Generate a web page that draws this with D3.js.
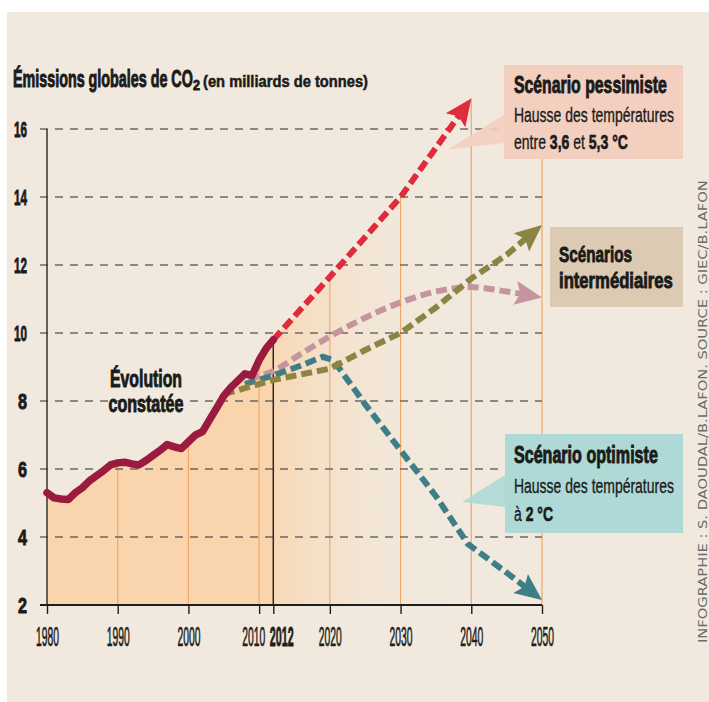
<!DOCTYPE html>
<html>
<head>
<meta charset="utf-8">
<script src="https://cdn.jsdelivr.net/npm/d3@7"></script>
<style>
  html, body { margin: 0; background: #fff; }
  svg { display: block; }
</style>
</head>
<body>
<svg id="chart" width="709" height="702"></svg>
<script>
// observed emissions (Gt)
const histYears = [1980,1981,1982,1983,1984,1985,1986,1987,1988,1989,1990,1991,1992,1993,1994,1995,1996,
  1997,1998,1999,2000,2001,2002,2003,2004,2005,2006,2007,2008,2009,2010,2011,2012];
const histValues = [5.3,5.15,5.12,5.1,5.3,5.45,5.65,5.8,5.95,6.12,6.18,6.2,6.15,6.12,6.25,6.4,6.55,
  6.72,6.65,6.6,6.8,7.0,7.1,7.45,7.8,8.15,8.4,8.6,8.8,8.75,9.2,9.55,9.8];

// scenarios
const pessYears = [2012, 2020, 2030, 2040];
const pessValues = [9.8, 11.65, 14.0, 16.9];
const pinkYears = [2008.5, 2012, 2016, 2020, 2025, 2030, 2035, 2040, 2045, 2050];
const pinkValues = [8.65, 8.88, 9.4, 9.9, 10.45, 10.9, 11.22, 11.35, 11.22, 11.05];
const oliveYears = [2005, 2012, 2020, 2025, 2030, 2035, 2040, 2045, 2050];
const oliveValues = [8.2, 8.62, 8.95, 9.5, 10.0, 10.75, 11.6, 12.3, 13.18];
const optYears = [2008, 2012, 2016, 2019, 2020.5, 2025, 2030, 2035, 2039.5, 2045, 2050];
const optValues = [8.5, 8.75, 9.05, 9.3, 9.2, 7.9, 6.55, 5.2, 3.8, 2.95, 2.15];

const yTicks = [2, 4, 6, 8, 10, 12, 14, 16];
const xTicks = [1980, 1990, 2000, 2010, 2012, 2020, 2030, 2040, 2050];

const FONT = "'Liberation Sans', Arial, sans-serif";
const BG = "#f1e9dd";
const INK = "#1b1b1b";

const svg = d3.select("#chart");
const x = d3.scaleLinear().domain([1980, 2050]).range([47, 542]);
const y = d3.scaleLinear().domain([2, 16]).range([605, 129]);

const zip = (xs, vs) => xs.map((d, i) => ({year: d, value: vs[i]}));
const hist = zip(histYears, histValues);
const pess = zip(pessYears, pessValues);

// text helper: squeezes the text horizontally to a target width
function put(parent, px, py, parts, o = {}) {
  const g = parent.append("g");
  const color = o.color || INK;
  const t = g.append("text")
    .attr("text-anchor", o.anchor || "start")
    .attr("fill", color)
    .style("font-family", o.family || FONT)
    .style("font-size", (o.size || 20) + "px");
  parts.forEach(p => {
    const [s, b] = Array.isArray(p) ? p : [p, o.bold];
    const ts = t.append("tspan").attr("font-weight", b ? "bold" : "normal").text(s);
    const sw = b ? (o.heavy || 0.7) : (o.light || 0);
    if (sw) ts.attr("stroke", color).attr("stroke-width", sw);
  });
  const w = t.node().getComputedTextLength();
  const sx = o.width ? o.width / w : 1;
  g.attr("transform", `translate(${px},${py})${o.rotate ? ` rotate(${o.rotate})` : ""} scale(${sx},1)`);
  return t;
}

svg.append("rect").attr("x", 7).attr("y", 12).attr("width", 702).attr("height", 690).attr("fill", BG);

const defs = svg.append("defs");
const grad = defs.append("linearGradient").attr("id", "fade")
  .attr("gradientUnits", "userSpaceOnUse")
  .attr("x1", x(2012)).attr("x2", x(2037)).attr("y1", 0).attr("y2", 0);
grad.append("stop").attr("offset", 0).attr("stop-color", "#f8d8b6").attr("stop-opacity", 1);
grad.append("stop").attr("offset", 1).attr("stop-color", BG).attr("stop-opacity", 0);

// areas
const area = d3.area().x(d => x(d.year)).y0(y(2)).y1(d => y(d.value));
svg.append("path").datum(hist).attr("d", area).attr("fill", "#fad4ad");
svg.append("path").datum(pess).attr("d", area).attr("fill", "url(#fade)");

// orange verticals up to the upper envelope
const envelope = hist.concat(pess.slice(1));
const bis = d3.bisector(d => d.year).left;
function topAt(yr) {
  const i = bis(envelope, yr);
  if (i <= 0) return envelope[0].value;
  if (i >= envelope.length) return envelope[envelope.length - 1].value;
  const a = envelope[i - 1], b = envelope[i];
  return a.value + (b.value - a.value) * (yr - a.year) / (b.year - a.year);
}
svg.append("g").selectAll("line")
  .data(xTicks.filter(d => d !== 1980 && d !== 2012))
  .join("line")
  .attr("x1", d => x(d)).attr("x2", d => x(d))
  .attr("y1", y(2)).attr("y2", d => y(topAt(d)))
  .attr("stroke", "#f2a866").attr("stroke-width", 1.2);

// dashed horizontal grid
svg.append("g").selectAll("line")
  .data(yTicks)
  .join("line")
  .attr("x1", 40).attr("x2", x(2050))
  .attr("y1", d => y(d)).attr("y2", d => y(d))
  .attr("stroke", "#6d6864").attr("stroke-width", 1.5)
  .attr("stroke-dasharray", "8,7");

// y axis line
svg.append("line").attr("x1", x(1980)).attr("x2", x(1980))
  .attr("y1", y(16)).attr("y2", y(2)).attr("stroke", "#333").attr("stroke-width", 1.5);
// 2012 marker
svg.append("line").attr("x1", x(2012)).attr("x2", x(2012))
  .attr("y1", y(2)).attr("y2", y(topAt(2012))).attr("stroke", "#2a2a2a").attr("stroke-width", 1.5);

// scenario lines with arrow heads
const ARROW = 19;
function marker(id, color) {
  defs.append("marker").attr("id", id)
    .attr("markerUnits", "userSpaceOnUse")
    .attr("viewBox", "-25 -25 50 50")
    .attr("markerWidth", 50).attr("markerHeight", 50)
    .attr("refX", 0).attr("refY", 0)
    .attr("orient", "auto")
    .append("path").attr("d", "M-8,-12L19,0L-8,12L-3,0Z").attr("fill", color);
}
function scenario(xs, vs, color, id, curve) {
  const pts = xs.map((d, i) => [x(d), y(vs[i])]);
  const n = pts.length;
  const [ax, ay] = pts[n - 2], [bx, by] = pts[n - 1];
  const len = Math.hypot(bx - ax, by - ay);
  pts[n - 1] = [bx - (bx - ax) / len * ARROW, by - (by - ay) / len * ARROW];
  marker(id, color);
  svg.append("path").datum(pts)
    .attr("d", d3.line().curve(curve || d3.curveMonotoneX))
    .attr("fill", "none").attr("stroke", color).attr("stroke-width", 6)
    .attr("stroke-dasharray", "11,5")
    .attr("marker-end", `url(#${id})`);
}
scenario(pinkYears, pinkValues, "#c4959f", "a-pink");
scenario(optYears, optValues, "#3e7e87", "a-teal", d3.curveLinear);
scenario(oliveYears, oliveValues, "#8c8442", "a-olive", d3.curveLinear);
scenario(pessYears, pessValues, "#df2b3b", "a-red", d3.curveLinear);

// observed line
svg.append("path").datum(hist)
  .attr("d", d3.line().x(d => x(d.year)).y(d => y(d.value)))
  .attr("fill", "none").attr("stroke", "#9b1a40").attr("stroke-width", 7.5)
  .attr("stroke-linejoin", "round").attr("stroke-linecap", "round");

// x axis
const labelShift = new Map([[2010, -6], [2012, 8]]);
const gx = svg.append("g").attr("transform", `translate(0,${y(2)})`)
  .style("color", "#1e1e1e")
  .call(d3.axisBottom(x).tickValues(xTicks).tickSize(9).tickSizeOuter(0).tickFormat(d3.format("d")));
gx.select(".domain").attr("stroke-width", 2.2).attr("d", `M40,0H${x(2050)}`);
gx.selectAll(".tick line").attr("stroke-width", 1.4);
gx.selectAll(".tick text").each(function(d) {
  const t = d3.select(this)
    .attr("y", 41).attr("dy", null)
    .style("font-family", FONT).style("font-size", "27px")
    .attr("font-weight", d === 2012 ? "bold" : "normal")
    .attr("stroke", "#1e1e1e").attr("stroke-width", d === 2012 ? 0.8 : 0.7)
    .attr("fill", "#1e1e1e");
  const sx = (d === 2012 ? 24 : 23) / this.getComputedTextLength();
  t.attr("transform", `scale(${sx},1)`).attr("x", (labelShift.get(d) || 0) / sx);
});

// y labels
yTicks.forEach(v => put(svg, 27, y(v) + 8, [String(v)],
  {anchor: "end", bold: true, size: 22, width: v >= 10 ? 13 : 9, heavy: 0.9}));

// title
put(svg, 13, 87, ["Émissions globales de CO"], {bold: true, size: 24, width: 180, heavy: 1});
put(svg, 193, 90, ["2"], {bold: true, size: 14, width: 7, heavy: 0.8});
put(svg, 203, 87, ["(en milliards de tonnes)"], {bold: true, size: 16, width: 165, heavy: 0.5});

put(svg, 146, 387, ["Évolution"], {anchor: "middle", bold: true, size: 23, width: 72, heavy: 0.9});
put(svg, 146, 412, ["constatée"], {anchor: "middle", bold: true, size: 23, width: 75, heavy: 0.9});

// annotation boxes
function callout(bx, by, bw, bh, fill, tip, edge) {
  const g = svg.append("g");
  if (tip) {
    g.append("path")
      .attr("d", `M${bx},${edge[0]}L${x(tip[0])},${y(tip[1])}L${bx},${edge[1]}Z`)
      .attr("fill", fill).attr("opacity", 0.9);
  }
  g.append("rect").attr("x", bx).attr("y", by).attr("width", bw).attr("height", bh).attr("fill", fill);
}
callout(504, 65, 179, 94, "#f3cfc0", [2036.7, 15.4], [115, 143]);
callout(550, 227, 133, 80, "#dccab2");
callout(505, 434, 178, 99, "#aed9d6", [2038.7, 5.03], [475, 507]);

put(svg, 514, 93, ["Scénario pessimiste"], {bold: true, size: 23, width: 153, heavy: 0.9});
put(svg, 514, 122, ["Hausse des températures"], {size: 21, width: 160, light: 0.35});
put(svg, 514, 149, ["entre ", ["3,6", true], " et ", ["5,3 °C", true]], {size: 21, width: 114, light: 0.35});

put(svg, 559, 262, ["Scénarios"], {bold: true, size: 22, width: 73, heavy: 0.9});
put(svg, 559, 288, ["intermédiaires"], {bold: true, size: 22, width: 114, heavy: 0.9});

put(svg, 514, 463, ["Scénario optimiste"], {bold: true, size: 23, width: 144, heavy: 0.9});
put(svg, 514, 493, ["Hausse des températures"], {size: 21, width: 160, light: 0.35});
put(svg, 514, 521, ["à ", ["2 °C", true]], {size: 21, width: 39, light: 0.35});

// credit
put(svg, 707, 643, ["INFOGRAPHIE : S. DAOUDAL/B.LAFON. SOURCE : GIEC/B.LAFON"],
  {size: 12.5, width: 463, rotate: -90, color: "#6b6b6b", family: "'DejaVu Sans', sans-serif"});
</script>
</body>
</html>
